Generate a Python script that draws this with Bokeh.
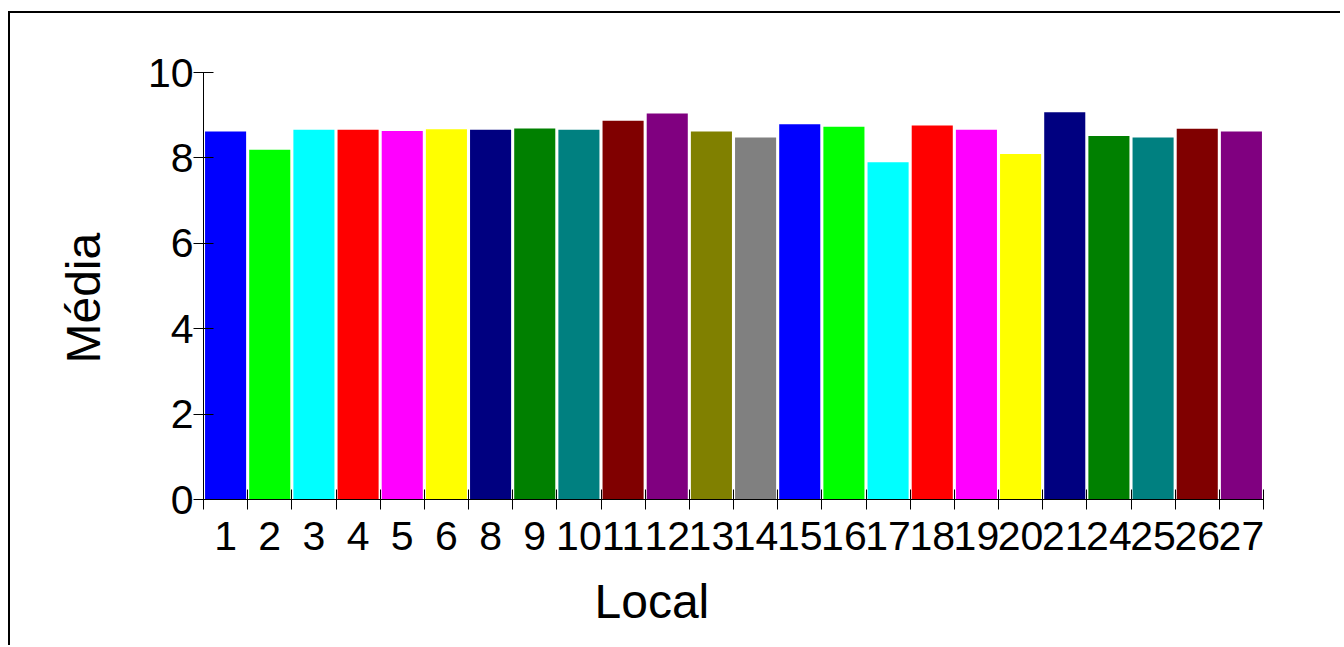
from bokeh.plotting import figure
from bokeh.models import Range1d, FixedTicker, Title
from bokeh.embed import file_html
from bokeh.resources import INLINE

# ---- data ----
locais = ["1", "2", "3", "4", "5", "6", "8", "9", "10", "11", "12", "13", "14",
          "15", "16", "17", "18", "19", "20", "21", "24", "25", "26", "27"]
medias = [8.62, 8.19, 8.66, 8.66, 8.63, 8.67, 8.66, 8.69, 8.66, 8.87, 9.04, 8.62, 8.48,
          8.79, 8.73, 7.90, 8.76, 8.66, 8.09, 9.07, 8.51, 8.48, 8.68, 8.62]
palette = ["#0000FF", "#00FF00", "#00FFFF", "#FF0000", "#FF00FF", "#FFFF00", "#000080",
           "#008000", "#008080", "#800000", "#800080", "#808000", "#808080"]
y_ticks = [0, 2, 4, 6, 8, 10]
x_title = "Local"
y_title = "Média"

xpos = list(range(1, len(locais) + 1))
colors = [palette[i % len(palette)] for i in range(len(locais))]

FONT = "Liberation Sans"

p = figure(width=1332, height=634, output_backend="svg", toolbar_location=None,
           x_range=Range1d(0.5, len(locais) + 0.5), y_range=Range1d(0, 10),
           min_border_left=193, min_border_right=79, min_border_top=59, min_border_bottom=148)

p.vbar(x=xpos, top=medias, width=0.93, bottom=0, fill_color=colors, line_color=None)

p.grid.visible = False
p.outline_line_color = None
p.background_fill_color = "white"
p.border_fill_color = "white"
p.styles = {"border-left": "2px solid black", "border-top": "2px solid black",
            "margin-top": "11px", "margin-left": "8px"}

# y axis
ya = p.yaxis[0]
ya.ticker = FixedTicker(ticks=y_ticks, minor_ticks=[])
ya.major_tick_in = 10
ya.major_tick_out = 10
ya.minor_tick_in = 0
ya.minor_tick_out = 0
ya.major_label_standoff = 0
ya.major_label_text_font = FONT
ya.major_label_text_font_size = "41px"
ya.major_label_text_color = "black"
ya.axis_line_color = "black"
ya.major_tick_line_color = "black"

# x axis
xa = p.xaxis[0]
xa.ticker = FixedTicker(ticks=xpos, minor_ticks=[x + 0.5 for x in [0] + xpos])
xa.major_label_overrides = {x: lab for x, lab in zip(xpos, locais)}
xa.major_tick_in = 0
xa.major_tick_out = 0
xa.minor_tick_in = 10
xa.minor_tick_out = 10
xa.minor_tick_line_color = "black"
xa.major_label_standoff = 12
xa.major_label_text_font = FONT
xa.major_label_text_font_size = "41px"
xa.major_label_text_color = "black"
xa.axis_line_color = "black"

# axis titles (placed off-centre like the original)
p.add_layout(Title(text=x_title, align="left", offset=391, standoff=40,
                   text_font=FONT, text_font_size="48px", text_font_style="normal",
                   text_color="black"), "below")
p.add_layout(Title(text=y_title, align="left", offset=136, standoff=69,
                   text_font=FONT, text_font_size="48px", text_font_style="normal",
                   text_color="black"), "left")

open("out.html", "w").write(file_html(p, INLINE))
